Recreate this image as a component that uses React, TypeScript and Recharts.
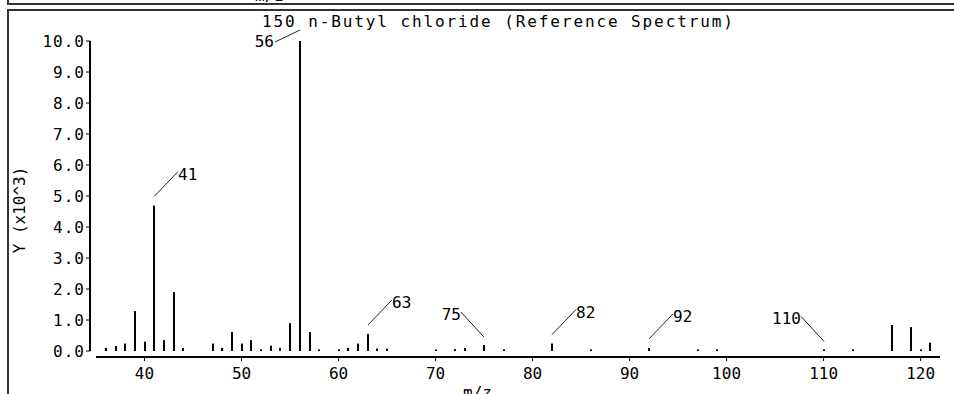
import React from "react";
import { ComposedChart, Bar, XAxis, YAxis } from "recharts";

// m/z values and intensities (x10^3)
const massToCharge = [
  36, 37, 38, 39, 40, 41, 42, 43, 44, 47, 48, 49, 50, 51, 52, 53, 54, 55, 56,
  57, 58, 60, 61, 62, 63, 64, 65, 70, 72, 73, 75, 77, 82, 86, 92, 97, 99, 110,
  113, 117, 119, 120, 121,
];
const intensity = [
  0.1, 0.16, 0.24, 1.29, 0.3, 4.69, 0.35, 1.9, 0.1, 0.24, 0.1, 0.61, 0.24, 0.35,
  0.05, 0.17, 0.1, 0.9, 10.0, 0.61, 0.05, 0.05, 0.1, 0.24, 0.55, 0.08, 0.08,
  0.05, 0.06, 0.1, 0.19, 0.05, 0.24, 0.05, 0.1, 0.05, 0.05, 0.05, 0.05, 0.84,
  0.77, 0.05, 0.27,
];

// labelled peaks and which way their leader line goes
const labelledPeaks = [41, 56, 63, 75, 82, 92, 110];
const labelSide = ["up-right", "low-left", "up-right", "up-left", "up-right", "up-right", "up-left"];

const xTicks = [40, 50, 60, 70, 80, 90, 100, 110, 120];
const yTicks = [0, 1, 2, 3, 4, 5, 6, 7, 8, 9, 10];

const title = "150 n-Butyl chloride (Reference Spectrum)";

const data = massToCharge.map((m, i) => {
  const k = labelledPeaks.indexOf(m);
  return { mz: m, y: intensity[i], label: k >= 0 ? String(m) : null, side: k >= 0 ? labelSide[k] : null };
});

const FONT = "'DejaVu Sans Mono', 'Liberation Mono', monospace";

const PeakShape = (props: any) => {
  const { x, y, width, height, payload } = props;
  const cx = Math.round(x + width / 2);
  const h = Math.max(height, 1.6);
  const top = y + height - h;
  let note = null;
  if (payload && payload.label) {
    const s = payload.side;
    if (s === "up-right") {
      note = (
        <g>
          <line x1={cx} y1={top - 9} x2={cx + 24} y2={top - 34} stroke="#222" strokeWidth={1} />
          <text x={cx + 24} y={top - 26} fontFamily={FONT} fontSize={16} fill="#000">
            {payload.label}
          </text>
        </g>
      );
    } else if (s === "up-left") {
      note = (
        <g>
          <line x1={cx} y1={top - 8} x2={cx - 23} y2={top - 33} stroke="#222" strokeWidth={1} />
          <text x={cx - 23} y={top - 25} textAnchor="end" fontFamily={FONT} fontSize={16} fill="#000">
            {payload.label}
          </text>
        </g>
      );
    } else {
      note = (
        <g>
          <line x1={cx} y1={top - 11} x2={cx - 25} y2={top + 1} stroke="#222" strokeWidth={1} />
          <text x={cx - 26} y={top + 6} textAnchor="end" fontFamily={FONT} fontSize={16} fill="#000">
            {payload.label}
          </text>
        </g>
      );
    }
  }
  return (
    <g>
      <rect x={cx - 1} y={top} width={2} height={h} fill="#000" />
      {note}
    </g>
  );
};

const YTick = (props: any) => {
  const { x, y, payload } = props;
  return (
    <text x={x - 6} y={y + 6} textAnchor="end" fontFamily={FONT} fontSize={16} letterSpacing={1} fill="#000">
      {Number(payload.value).toFixed(1)}
    </text>
  );
};

const XTick = (props: any) => {
  const { x, y, payload } = props;
  return (
    <text x={x} y={y + 22} textAnchor="middle" fontFamily={FONT} fontSize={16} fill="#000">
      {payload.value}
    </text>
  );
};

export default function App() {
  return (
    <div
      style={{
        position: "absolute",
        left: 0,
        top: 0,
        width: 954,
        height: 394,
        background: "#fff",
        overflow: "hidden",
        fontFamily: FONT,
      }}
    >
      {/* tail of the panel above */}
      <div
        style={{
          position: "absolute",
          left: 7,
          top: 0,
          width: 945,
          height: 3,
          borderLeft: "2px solid #333",
          borderBottom: "2px solid #333",
          overflow: "hidden",
        }}
      >
        <div style={{ position: "absolute", left: 246, top: -12, fontSize: 16, lineHeight: "16px" }}>m/z</div>
      </div>
      {/* frame of this panel */}
      <div
        style={{
          position: "absolute",
          left: 7,
          top: 9,
          width: 945,
          height: 385,
          borderLeft: "2px solid #333",
          borderTop: "2px solid #333",
        }}
      />
      <div
        style={{
          position: "absolute",
          left: 262,
          top: 14,
          fontSize: 16,
          lineHeight: "16px",
          letterSpacing: 1.9,
          whiteSpace: "pre",
          color: "#000",
        }}
      >
        {title}
      </div>
      <div
        style={{
          position: "absolute",
          left: 20,
          top: 210,
          fontSize: 16,
          lineHeight: "16px",
          whiteSpace: "pre",
          transform: "translate(-50%, -50%) rotate(-90deg)",
          color: "#000",
        }}
      >
        Y (x10^3)
      </div>
      <div style={{ position: "absolute", left: 463, top: 385, fontSize: 16, lineHeight: "16px", color: "#000" }}>
        m/z
      </div>
      <div style={{ position: "absolute", left: 0, top: 0 }}>
        <ComposedChart
          width={954}
          height={394}
          data={data}
          margin={{ top: 41, right: 14, bottom: 0, left: 0 }}
        >
          <XAxis
            dataKey="mz"
            type="number"
            domain={[35, 122]}
            ticks={xTicks}
            allowDataOverflow
            height={43}
            tickSize={4}
            tickMargin={2}
            axisLine={{ stroke: "#000", strokeWidth: 2, transform: "translate(0 6)" } as any}
            tickLine={{ stroke: "#000", strokeWidth: 1, transform: "translate(0 6)" } as any}
            tick={<XTick />}
            interval={0}
          />
          <YAxis
            type="number"
            domain={[0, 10]}
            ticks={yTicks}
            width={96}
            tickSize={4}
            tickMargin={1}
            axisLine={{ stroke: "#000", strokeWidth: 2, transform: "translate(-6 0)" } as any}
            tickLine={{ stroke: "#000", strokeWidth: 1, transform: "translate(-6 0)" } as any}
            tick={<YTick />}
            interval={0}
          />
          <Bar dataKey="y" barSize={2} shape={<PeakShape />} isAnimationActive={false} />
        </ComposedChart>
      </div>
    </div>
  );
}
